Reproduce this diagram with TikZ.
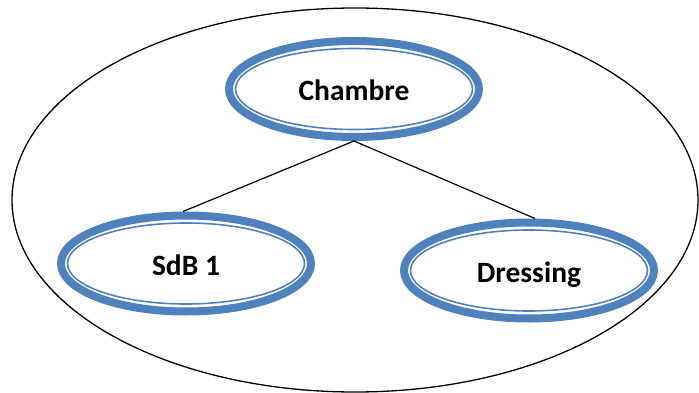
\documentclass[tikz,border=0pt]{standalone}
\usepackage{fontspec}
\setmainfont{Carlito}
\usetikzlibrary{shapes.geometric}
\definecolor{officeblue}{RGB}{79,129,189}
\tikzset{
  frame/.style={ellipse, draw=black, line width=1.3pt, inner sep=0pt,
    minimum width=686pt, minimum height=384pt},
  room/.style={ellipse, draw=officeblue, line width=8pt, inner sep=0pt, outer sep=4pt,
    minimum width=250pt, minimum height=96pt,
    font=\fontsize{29.5}{31}\selectfont\bfseries, text height=24pt, text depth=0pt},
  roominner/.style={draw=officeblue, line width=1.6pt},
  link/.style={draw=black, line width=1.2pt}
}
\begin{document}
\begin{tikzpicture}[x=1pt,y=-1pt]
\useasboundingbox (0,0) rectangle (699,393);
\node[frame] (house) at (355,200) {};
\node[room] (chambre) at (354,89) {Chambre};
\node[room] (sdb) at (186,263.5) {SdB 1};
\node[room] (dressing) at (529,270.5) {Dressing};
\foreach \n in {chambre,sdb,dressing}
  \draw[roominner] (\n.center) ellipse [x radius=118.5, y radius=40.5];
\draw[link] (chambre.south) -- ([xshift=-3pt]sdb.north);
\draw[link] (chambre.south) -- ([xshift=6pt]dressing.north);
\end{tikzpicture}
\end{document}
